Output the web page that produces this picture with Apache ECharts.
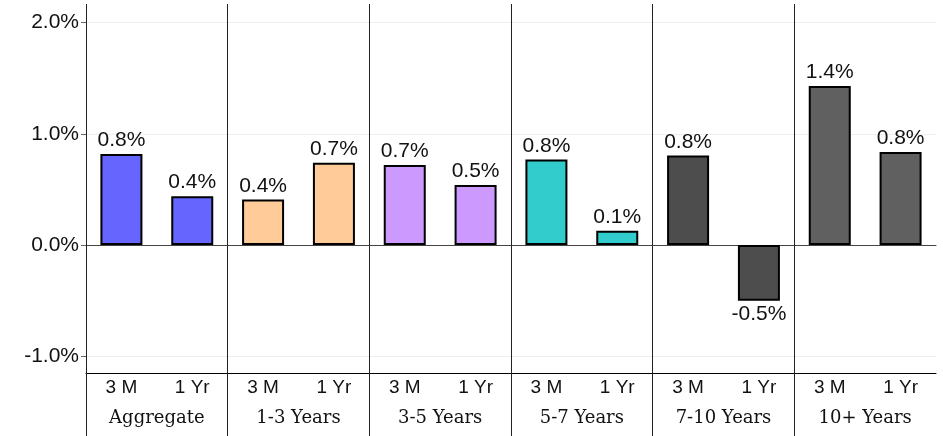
<!DOCTYPE html>
<html>
<head>
<meta charset="utf-8">
<script src="https://cdn.jsdelivr.net/npm/echarts@6/dist/echarts.min.js"></script>
<style>
  html, body { margin: 0; padding: 0; background: #fff; }
  #returns_bar { width: 943px; height: 436px; }
</style>
</head>
<body>
<div id="returns_bar"></div>
<script>
// groups along the x axis, two periods in each
const groups = ['Aggregate', '1-3 Years', '3-5 Years', '5-7 Years', '7-10 Years', '10+ Years'];
const periods = ['3 M', '1 Yr'];
const threeMonth = [0.82, 0.41, 0.72, 0.77, 0.805, 1.43];
const oneYear = [0.44, 0.74, 0.54, 0.128, -0.50, 0.838];
const groupColors = ['#6666ff', '#ffcc99', '#cc99ff', '#33cccc', '#4d4d4d', '#606060'];
const yTicks = [-1, 0, 1, 2];

const sans = "'Liberation Sans', Arial, sans-serif";
const serif = "'DejaVu Serif', Georgia, serif";

let categories = [];
let barData = [];
groups.forEach((g, i) => {
    [threeMonth[i], oneYear[i]].forEach((v, j) => {
        categories.push(periods[j]);
        barData.push({
            value: v,
            itemStyle: { color: groupColors[i] },
            label: { position: v >= 0 ? 'top' : 'bottom' }
        });
    });
});
// one boundary more than groups, last one left undrawn
const boundaries = groups.concat(['']);

const DrawBars = () => {
    let chart = echarts.init(document.getElementById('returns_bar'));
    let option = {
        animation: false,
        grid: { left: 86, right: 7, top: 6, bottom: 63 },
        xAxis: [{
            type: 'category',
            data: categories,
            axisLine: { onZero: false, lineStyle: { color: '#000', width: 1 } },
            axisTick: { alignWithLabel: true, length: 5, lineStyle: { color: '#666' } },
            axisLabel: { color: '#111', fontFamily: sans, fontSize: 19, margin: 5 },
            splitLine: { show: false }
        }, {
            type: 'category',
            data: groups,
            position: 'bottom',
            offset: 29,
            axisLine: { lineStyle: { color: '#444', width: 1 } },
            axisTick: { show: false },
            axisLabel: { color: '#111', fontFamily: serif, fontSize: 18, margin: 7 }
        }, {
            type: 'category',
            data: boundaries,
            boundaryGap: false,
            position: 'bottom',
            offset: 63,
            axisLine: { show: false },
            axisLabel: { show: false },
            axisTick: {
                inside: true,
                length: 432,
                interval: (idx) => idx < groups.length,
                lineStyle: { color: '#222', width: 1 }
            }
        }],
        yAxis: {
            type: 'value',
            min: -1.15,
            max: 2.15,
            axisLine: { show: true, lineStyle: { color: '#000', width: 1 } },
            axisTick: { show: true, length: 5, customValues: yTicks, lineStyle: { color: '#666' } },
            axisLabel: {
                customValues: yTicks,
                color: '#111', fontFamily: sans, fontSize: 21, margin: 7,
                formatter: (v) => v.toFixed(1) + '%'
            },
            splitLine: {
                show: true,
                lineStyle: { color: ['#eeeeee', '#000000', '#eeeeee', '#eeeeee'], width: 1 }
            }
        },
        series: [{
            type: 'bar',
            xAxisIndex: 0,
            data: barData,
            barWidth: 42,
            itemStyle: { borderColor: '#000', borderWidth: 2 },
            label: {
                show: true,
                color: '#111',
                fontFamily: sans,
                fontSize: 21,
                distance: 3,
                formatter: (p) => p.value.toFixed(1) + '%'
            }
        }]
    };
    chart.setOption(option);
};
DrawBars();
</script>
</body>
</html>
